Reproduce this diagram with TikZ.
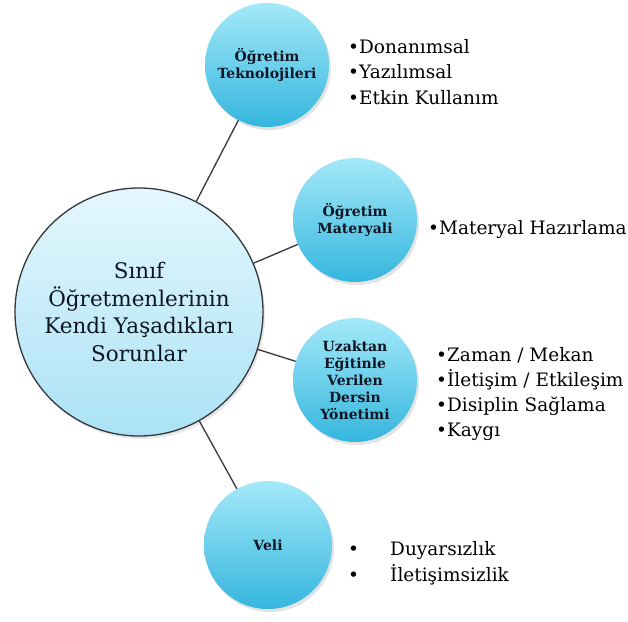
\documentclass[tikz,border=0pt]{standalone}
\usepackage{fontspec}
\setmainfont{DejaVu Serif}
\usetikzlibrary{shadows}
\definecolor{smtop}{HTML}{A4E9F9}
\definecolor{smbot}{HTML}{35B6DE}
\definecolor{bigtop}{HTML}{E4F7FD}
\definecolor{bigbot}{HTML}{ABE2F6}
\definecolor{txtc}{HTML}{101522}
\definecolor{linec}{HTML}{33383D}
\tikzset{
  bigc/.style={circle, draw=linec, line width=1.3pt, minimum size=248pt, inner sep=0pt,
    top color=bigtop, bottom color=bigbot, align=center, text=txtc,
    font=\fontsize{21.5}{27.5}\selectfont,
    drop shadow={opacity=0.18, shadow xshift=2pt, shadow yshift=-3pt}},
  smc/.style={circle, minimum size=124pt, inner sep=0pt, top color=smtop, bottom color=smbot,
    align=center, text=txtc, font=\bfseries\fontsize{14}{17}\selectfont,
    drop shadow={opacity=0.22, shadow xshift=2pt, shadow yshift=-3pt}},
  conn/.style={draw=linec, line width=1.3pt},
  item/.style={anchor=base west, inner sep=0pt, font=\fontsize{18.5}{20}\selectfont, text=black}
}
\begin{document}
\begin{tikzpicture}[x=1pt,y=-1pt]
\useasboundingbox (0,0) rectangle (628,621);
\fill[white] (0,0) rectangle (628,621);
% circles
\node[smc] (t1) at (267,65) {Öğretim\\Teknolojileri};
\node[smc] (t2) at (355,220) {Öğretim\\Materyali};
\node[smc] (t3) at (355,380) {Uzaktan\\Eğitinle\\Verilen\\Dersin\\Yönetimi};
\node[smc, minimum size=128pt] (t4) at (268,545) {Veli};
\node[bigc] (big) at (139,312) {Sınıf\\Öğretmenlerinin\\Kendi Yaşadıkları\\Sorunlar};
% connectors
\draw[conn] (big) -- (t1);
\draw[conn] (big) -- (t2);
\draw[conn] (big) -- (t3);
\draw[conn] (big) -- (t4);
% lists
\node[item] (a1) at (348,53) {•Donanımsal};
\node[item] (a2) at (348,78) {•Yazılımsal};
\node[item] (a3) at (348,104) {•Etkin Kullanım};
\node[item] (b1) at (428,234) {•Materyal Hazırlama};
\node[item] (c1) at (436,361) {•Zaman / Mekan};
\node[item] (c2) at (436,386) {•İletişim / Etkileşim};
\node[item] (c3) at (436,411) {•Disiplin Sağlama};
\node[item] (c4) at (436,436) {•Kaygı};
\node[item] (d0) at (348,555) {•};
\node[item] (d1) at (390,555) {Duyarsızlık};
\node[item] (d2) at (348,581) {•};
\node[item] (d3) at (390,581) {İletişimsizlik};
\end{tikzpicture}
\end{document}
